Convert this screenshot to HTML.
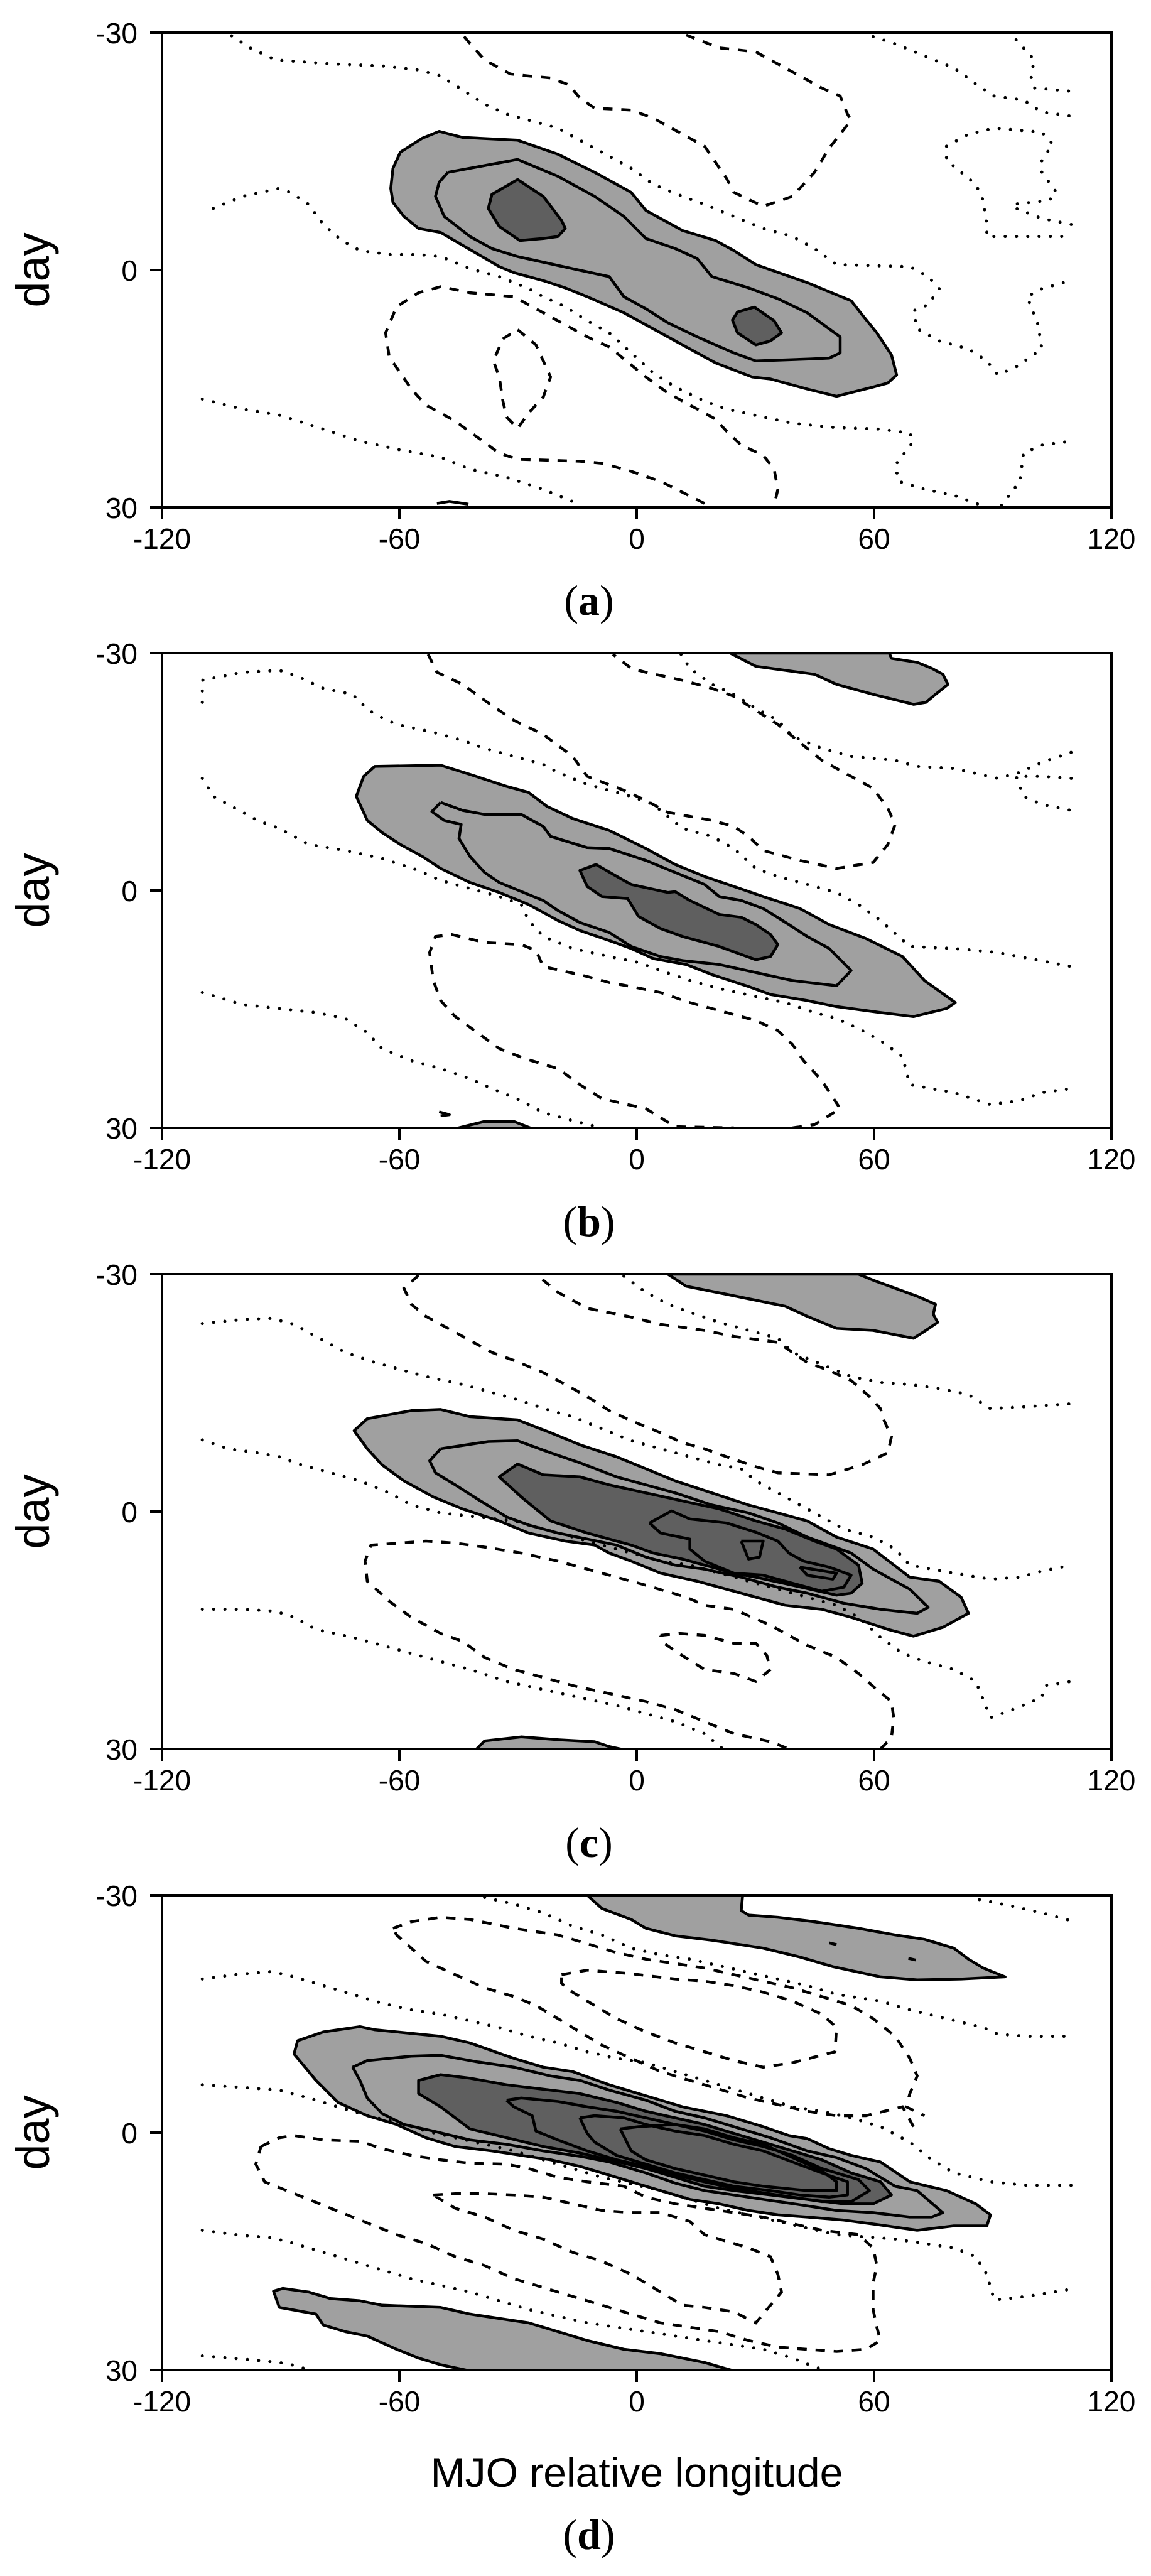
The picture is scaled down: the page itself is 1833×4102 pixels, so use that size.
<!DOCTYPE html>
<html><head><meta charset="utf-8">
<style>
html,body{margin:0;padding:0;background:#fff;}
svg{display:block;}
text{font-family:"Liberation Sans",Arial,sans-serif;}
.lab{font-family:"Liberation Serif","Times New Roman",serif;}
</style></head>
<body>
<svg id="s" width="1833" height="4102" viewBox="0 0 1833 4102" xmlns="http://www.w3.org/2000/svg">
<text class="lab" x="938" y="979" font-size="68" text-anchor="middle">(<tspan font-weight="bold">a</tspan>)</text>
<text class="lab" x="938" y="1968" font-size="68" text-anchor="middle">(<tspan font-weight="bold">b</tspan>)</text>
<text class="lab" x="938" y="2957" font-size="68" text-anchor="middle">(<tspan font-weight="bold">c</tspan>)</text>
<text class="lab" x="938" y="4059" font-size="68" text-anchor="middle">(<tspan font-weight="bold">d</tspan>)</text>
<text x="1014" y="3960" font-size="66" text-anchor="middle">MJO relative longitude</text>
</svg>
<script>
var NS="http://www.w3.org/2000/svg",S=document.getElementById("s");
function el(t,a,p){var e=document.createElementNS(NS,t);for(var k in a)e.setAttribute(k,a[k]);(p||S).appendChild(e);return e;}
var L=258,R=1770,H=756;
var panels=[
{top:52,yt:82,yb:1265,
fl:[[598,328,630,343,705,350,760,385,810,430,860,480,880,525,930,575,975,600,1000,625,1030,660,1100,705,1160,750,1175,785,1195,830,1215,885,1222,935,1210,955,1190,965,1140,988,1100,970,1050,945,1025,940,975,905,950,880,900,830,870,800,850,780,800,740,770,718,740,700,700,680,680,665,600,580,570,570,550,540,535,505,532,470,535,420,545,380,575,345]],
fd:[[705,448,740,490,765,550,770,570,760,590,740,595,708,600,680,565,665,520,670,485],[1028,766,1055,800,1065,830,1050,850,1030,860,1005,830,998,798,1005,778]],
sol:[[610,430,705,398,760,440,810,490,850,540,880,595,920,620,950,645,970,690,1020,718,1060,745,1100,780,1145,840,1145,880,1130,893,1105,895,1030,900,1000,880,950,840,910,805,880,770,850,740,830,690,780,670,730,650,705,640,670,620,640,590,605,540,593,490,598,455,610,430],[595,1255,612,1250,638,1257]],
da:[[632,92,660,150,695,185,720,190,750,195,775,212,790,245,810,270,860,275,890,295,945,350,960,365,975,405,990,445,1000,480,1040,515,1080,490,1110,430,1130,370,1160,300,1155,285,1145,240,1120,220,1100,200,1050,150,1030,130,980,120,935,88],
[960,1255,900,1200,860,1175,820,1155,790,1150,705,1145,680,1130,650,1090,620,1050,600,1030,580,1010,560,970,545,930,530,890,525,830,540,765,570,730,600,715,640,730,700,740,720,760,760,800,800,840,830,865,860,910,880,940,910,980,950,1020,975,1045,990,1075,1010,1110,1040,1135,1055,1170,1060,1220,1055,1260],
[705,822,730,860,750,940,740,990,720,1030,705,1068,690,1040,685,1000,680,940,672,900,685,845,705,822]],
dt:[[315,90,340,120,375,150,450,160,520,165,570,175,600,190,630,225,660,260,690,285,720,300,760,320,790,350,820,380,860,420,890,460,930,490,960,510,1000,540,1040,570,1080,590,1110,620,1140,660,1240,665,1265,690,1280,720,1265,760,1245,775,1250,820,1280,850,1320,870,1345,900,1360,935,1385,915,1420,870,1415,810,1400,740,1420,720,1450,705],
[1190,92,1220,110,1260,140,1300,170,1330,210,1355,240,1395,250,1420,280,1460,290],
[1385,100,1410,150,1405,190,1410,220,1460,228],
[1460,560,1420,545,1385,520,1380,510,1430,500,1440,480,1420,430,1420,400,1435,360,1420,330,1355,320,1320,335,1290,365,1290,400,1310,430,1330,460,1340,500,1345,560,1345,590,1460,590],
[290,520,330,490,380,470,395,480,420,510,440,560,465,600,490,625,530,635,570,635,600,640,640,670,680,690,720,720,740,740,770,765,800,800,830,830,860,880,890,930,920,965,960,1000,990,1020,1040,1040,1080,1055,1130,1065,1200,1070,1240,1080,1245,1100,1220,1160,1225,1200,1260,1220,1300,1235,1335,1258],
[275,995,330,1020,380,1035,440,1070,490,1100,540,1120,600,1140,640,1170,690,1190,740,1220,790,1258],
[1365,1260,1390,1200,1395,1130,1420,1110,1460,1100]]},
{top:1040,yt:62,yb:1248,
fl:[[995,62,1030,95,1110,115,1140,140,1190,165,1245,190,1262,185,1275,165,1292,140,1285,115,1270,100,1250,85,1215,75,1212,62],
[510,345,600,342,640,365,690,395,720,410,745,445,780,475,830,505,880,550,920,590,960,620,1000,645,1040,670,1090,700,1130,740,1180,775,1230,820,1260,880,1302,935,1290,950,1245,970,1200,960,1140,945,1100,930,1050,915,1020,895,970,865,935,840,890,825,860,800,830,780,790,755,760,730,720,690,680,660,640,635,600,600,575,570,545,540,520,510,500,480,485,420,495,370],
[620,1250,660,1232,700,1232,725,1250]],
fd:[[812,590,850,630,860,640,910,660,920,658,940,680,980,715,1010,722,1030,740,1050,765,1060,790,1050,820,1030,828,980,795,930,770,900,750,870,720,855,675,820,670,800,645,790,605]],
sol:[[600,435,630,455,660,465,710,465,740,495,750,520,800,548,830,550,880,580,920,610,960,640,980,670,1010,680,1040,700,1075,740,1100,770,1130,800,1160,855,1140,893,1080,880,1030,860,980,840,930,830,900,820,860,795,830,760,790,735,760,705,740,680,720,665,680,635,660,610,640,570,625,525,628,490,605,480,588,458,600,435],[598,1208,612,1215,600,1218]],
da:[[583,65,595,110,630,140,660,180,700,230,740,265,780,320,800,370,850,405,880,430,910,460,970,480,1000,495,1020,520,1040,555,1090,580,1140,600,1190,585,1210,540,1220,490,1210,450,1190,400,1160,370,1120,330,1100,300,1080,270,1060,240,1030,205,1000,170,970,150,930,130,880,110,860,100,835,65],
[1080,1248,1110,1240,1145,1200,1120,1130,1095,1080,1080,1040,1060,1005,1030,980,970,950,940,935,900,910,860,895,830,885,800,870,740,845,730,805,710,790,660,785,615,765,593,770,585,810,590,880,600,930,620,970,650,1010,680,1050,715,1075,760,1100,790,1140,820,1175,880,1200,920,1245,1000,1248]],
dt:[[275,185,275,130,330,110,380,105,405,120,440,150,480,165,490,185,510,215,540,240,590,260,630,280,660,300,700,320,740,340,760,360,800,390,860,420,890,440,910,470,930,500,970,520,1000,550,1030,600,1060,620,1100,640,1140,660,1170,690,1200,730,1240,795,1300,800,1360,810,1460,845],
[928,65,940,100,970,140,1000,165,1030,200,1060,230,1080,270,1120,300,1160,320,1220,330,1250,345,1300,350,1360,375,1390,360,1420,335,1460,310],
[1460,375,1420,370,1385,370,1395,420,1420,440,1460,455],
[275,375,290,420,320,450,350,480,380,500,420,540,470,555,520,575,570,605,600,630,640,650,680,670,710,690,720,730,740,770,780,800,830,820,870,835,900,855,940,880,980,900,1030,920,1070,935,1110,960,1140,975,1170,1000,1200,1030,1230,1070,1240,1140,1300,1160,1350,1190,1390,1180,1420,1160,1460,1150],
[275,910,330,940,380,950,430,960,470,975,500,1010,520,1050,560,1080,600,1100,640,1125,670,1150,710,1180,740,1210,780,1230,820,1248]]},
{top:2029,yt:45,yb:1228,
fl:[[910,45,935,75,990,95,1030,110,1070,125,1100,150,1140,180,1190,185,1245,205,1262,185,1278,165,1272,145,1275,120,1250,100,1220,80,1190,60,1170,45],
[500,405,560,385,600,382,640,400,705,408,750,440,790,470,840,500,880,530,920,560,970,590,1020,620,1060,640,1100,660,1140,700,1190,730,1240,800,1280,810,1310,850,1320,890,1300,910,1285,925,1245,947,1210,930,1160,900,1120,880,1070,870,1030,850,990,830,950,810,900,790,860,760,830,740,810,720,770,710,720,690,680,660,630,630,590,600,550,560,520,520,500,480,482,435],
[648,1230,660,1208,710,1198,760,1205,810,1210,830,1222,850,1230]],
fd:[[705,518,740,545,790,550,830,570,880,590,930,610,980,630,1030,660,1070,680,1110,710,1140,730,1170,770,1175,815,1160,840,1140,845,1080,820,1030,800,1000,790,960,770,930,755,890,740,860,720,800,690,750,660,710,600,680,550]],
sol:[[600,480,665,462,705,460,750,490,790,515,840,550,880,570,920,590,970,620,1020,640,1060,665,1100,700,1160,740,1190,780,1240,830,1265,875,1250,890,1200,880,1150,865,1100,840,1060,825,1010,800,960,780,920,770,880,750,840,720,800,705,760,690,720,670,690,650,650,605,620,570,593,540,585,510,600,480],
[885,665,915,635,940,655,990,665,1030,688,1060,710,1075,740,1095,760,1130,775,1160,795,1150,825,1120,835,1090,820,1040,795,1000,790,960,760,940,730,940,705,900,690,885,665],
[1010,710,1040,710,1035,750,1020,755,1010,710],[1090,775,1140,790,1135,805,1100,795,1090,775]],
da:[[570,48,550,80,560,120,580,150,610,180,640,210,670,240,700,260,740,290,770,320,800,350,830,385,860,410,900,440,930,465,960,480,990,500,1030,525,1060,540,1130,545,1175,520,1210,490,1215,450,1205,410,1200,380,1185,350,1160,310,1130,285,1100,265,1080,240,1060,215,1000,200,960,185,900,170,855,150,800,130,760,90,740,60,735,48],
[1200,1228,1215,1200,1218,1150,1215,1110,1195,1080,1170,1040,1140,1000,1100,970,1050,920,1000,880,960,870,935,850,880,820,820,790,760,760,710,740,660,725,620,715,580,710,545,715,505,720,497,760,500,810,530,860,560,900,600,940,630,960,660,1000,700,1030,740,1050,780,1070,830,1090,880,1110,920,1130,960,1160,1000,1190,1050,1210,1075,1228],
[900,945,925,940,960,945,1000,965,1030,965,1045,995,1050,1030,1030,1060,1000,1040,960,1030,925,990,905,965,900,945]],
dt:[[275,168,330,158,370,155,400,170,430,200,470,240,510,265,540,280,580,300,630,320,660,335,700,355,750,385,780,400,820,430,860,460,900,480,940,500,980,520,1010,530,1030,560,1060,590,1090,620,1120,650,1150,680,1190,700,1220,730,1240,770,1300,790,1350,805,1390,800,1420,785,1460,770],
[850,50,880,90,910,120,940,140,980,165,1020,185,1060,205,1080,240,1120,270,1160,300,1200,315,1240,320,1280,330,1320,345,1350,380,1400,375,1460,368],
[275,458,310,480,350,490,380,500,410,520,450,540,490,560,530,590,560,620,600,640,650,650,700,660,740,680,780,700,820,720,860,740,900,760,940,770,980,790,1020,810,1060,830,1100,850,1140,870,1170,900,1200,950,1230,990,1260,1010,1300,1030,1330,1060,1350,1150,1380,1130,1420,1100,1425,1070,1460,1060],
[275,880,330,880,375,885,400,900,430,930,480,950,520,970,560,990,600,1010,640,1030,690,1060,740,1080,790,1100,840,1120,880,1140,920,1160,960,1190,985,1228]]},
{top:3018,yt:20,yb:1097,
fl:[[800,20,820,50,860,75,880,95,920,112,970,122,1040,140,1090,160,1135,182,1200,205,1250,212,1310,210,1370,205,1340,185,1320,165,1300,140,1260,120,1220,110,1170,95,1110,80,1060,70,1020,65,1010,55,1012,20],
[405,350,440,330,490,318,510,325,600,340,640,355,700,390,740,410,780,420,830,450,880,475,930,500,990,520,1040,545,1075,565,1100,572,1130,595,1160,610,1200,625,1240,670,1290,690,1330,720,1350,745,1345,770,1300,770,1250,780,1200,768,1150,757,1100,750,1060,745,1020,735,980,720,940,710,900,690,860,670,820,650,790,635,750,620,710,610,670,600,620,590,580,570,540,540,500,520,460,490,430,440,410,400,400,380],
[372,918,385,912,420,920,450,935,490,940,520,950,600,955,640,970,720,990,760,1010,800,1030,850,1050,900,1060,960,1080,1000,1099,640,1099,600,1085,570,1070,540,1050,500,1020,470,1010,440,995,430,970,380,955]],
fd:[[570,440,600,427,640,435,690,450,740,460,790,470,840,490,880,510,920,525,960,540,1000,560,1040,580,1080,600,1120,620,1160,650,1200,670,1215,700,1190,720,1150,720,1100,710,1050,700,1000,690,960,680,920,660,880,640,830,620,790,605,740,590,690,570,640,550,600,500,570,470]],
sol:[[480,410,500,395,560,385,600,383,650,398,700,410,750,430,790,440,830,462,880,485,920,510,960,525,1000,545,1050,570,1100,600,1140,615,1180,640,1220,680,1250,690,1285,740,1270,750,1240,750,1190,740,1140,735,1090,722,1040,710,1000,700,960,690,920,673,880,650,830,625,790,612,740,600,690,585,640,575,590,555,550,540,520,515,500,480,490,440,480,410],
[690,485,710,480,760,488,800,500,840,510,880,525,920,540,960,555,1000,575,1040,590,1080,610,1120,640,1170,665,1185,690,1160,715,1120,715,1080,705,1040,695,1000,685,960,670,920,655,880,635,840,620,800,600,760,575,730,555,725,520,700,500,690,485],
[790,525,810,520,850,525,880,540,920,555,960,565,1000,585,1040,600,1080,625,1120,650,1155,670,1155,700,1130,705,1090,700,1050,690,1000,680,960,665,920,650,880,630,840,610,810,580,800,560,790,525],
[845,550,870,545,920,540,960,550,1000,570,1040,585,1080,615,1120,645,1140,670,1140,690,1100,690,1040,680,1000,670,960,655,920,640,880,620,860,600,845,550],
[1130,128,1140,132],[1238,163,1248,167]],
da:[[765,200,800,190,860,198,920,210,960,215,1000,225,1040,240,1080,260,1120,290,1140,320,1138,375,1080,400,1040,410,1000,395,960,375,920,355,880,330,840,300,800,260,780,240,765,220,765,200],
[535,95,560,80,600,70,640,75,700,95,760,110,800,130,840,150,880,165,920,175,960,185,1000,200,1040,215,1080,230,1120,250,1160,270,1190,300,1220,340,1240,390,1250,430,1240,470,1235,500,1260,520],
[1245,545,1230,500,1180,520,1140,520,1100,510,1060,495,1020,480,980,460,940,440,900,420,860,390,820,360,790,330,760,300,730,270,700,250,660,230,620,200,580,170,560,140,540,110,535,95],
[355,590,380,570,400,565,440,575,490,578,520,595,560,610,600,620,640,628,690,630,720,640,760,660,800,670,850,680,880,705,920,720,960,730,1000,740,1040,750,1080,765,1120,780,1170,790,1190,820,1195,860,1190,900,1190,960,1195,1000,1200,1030,1180,1050,1140,1055,1100,1050,1060,1045,1020,1030,980,1010,940,1000,900,990,860,970,820,950,780,930,740,910,700,890,660,860,620,840,580,810,540,790,510,770,480,750,450,730,420,710,390,690,360,670,348,630,355,590],
[590,700,620,697,660,697,700,700,740,705,780,720,820,735,860,740,900,740,940,760,960,790,980,800,1000,810,1020,820,1050,840,1060,880,1065,920,1045,960,1030,990,1000,965,960,955,930,950,900,920,860,880,820,850,780,830,740,800,700,780,660,750,620,730,590,700]],
dt:[[660,25,700,40,740,60,780,90,820,110,860,140,900,155,940,165,980,180,1020,195,1060,210,1100,225,1140,245,1200,260,1240,280,1290,300,1340,320,1360,335,1400,340,1460,340],
[1335,30,1380,45,1420,60,1460,78],
[275,210,320,200,370,193,400,205,440,225,480,245,520,265,560,280,600,290,640,305,680,320,720,340,760,355,800,375,840,390,880,400,920,420,960,440,1000,460,1040,480,1080,500,1120,510,1160,525,1200,545,1240,580,1270,620,1300,650,1350,670,1400,678,1460,678],
[275,450,320,455,380,462,420,480,460,500,500,520,540,535,580,555,620,570,660,585,700,600,740,620,780,640,820,660,860,675,900,690,940,710,980,730,1020,745,1060,760,1100,775,1140,790,1180,795,1220,800,1260,810,1300,820,1330,840,1345,880,1355,938,1400,930,1455,915],
[275,780,320,790,370,797,400,810,440,830,480,850,520,870,560,890,600,905,640,920,680,940,720,960,760,975,800,990,840,1000,880,1010,920,1020,960,1030,1000,1040,1040,1050,1080,1070,1110,1090,1125,1097],
[275,1065,330,1072,380,1080,405,1088,420,1097]]}
];
panels.forEach(function(p,i){
  var T=p.top,B=T+H;
  function pts(a){var s=[];for(var k=0;k<a.length;k+=2){var x=L+(a[k]-220)*(R-L)/1295;var y=T+(a[k+1]-p.yt)*H/(p.yb-p.yt);s.push(x.toFixed(1)+","+y.toFixed(1));}return s.join(" ");}
  var cp=el("clipPath",{id:"c"+i});el("rect",{x:L,y:T,width:R-L,height:H},cp);
  var g=el("g",{"clip-path":"url(#c"+i+")"});
  p.fl.forEach(function(a){el("polygon",{points:pts(a),fill:"#a0a0a0",stroke:"#000","stroke-width":4.5,"stroke-linejoin":"round"},g);});
  p.fd.forEach(function(a){el("polygon",{points:pts(a),fill:"#5f5f5f",stroke:"#000","stroke-width":4.5,"stroke-linejoin":"round"},g);});
  p.sol.forEach(function(a){el("polyline",{points:pts(a),fill:"none",stroke:"#000","stroke-width":4.5,"stroke-linejoin":"round"},g);});
  p.da.forEach(function(a){el("polyline",{points:pts(a),fill:"none",stroke:"#000","stroke-width":4.5,"stroke-dasharray":"15 14"},g);});
  p.dt.forEach(function(a){el("polyline",{points:pts(a),fill:"none",stroke:"#000","stroke-width":5,"stroke-linecap":"round","stroke-dasharray":"0 18"},g);});
  el("rect",{x:L,y:T,width:R-L,height:H,fill:"none",stroke:"#000","stroke-width":4});
  [-120,-60,0,60,120].forEach(function(v){var x=L+(v+120)*(R-L)/240;
    el("line",{x1:x,y1:B,x2:x,y2:B+19,stroke:"#000","stroke-width":4});
    var t=el("text",{x:x,y:B+66,"font-size":46,"text-anchor":"middle"});t.textContent=v;});
  [[-30,T],[0,T+H/2],[30,B]].forEach(function(q){
    el("line",{x1:L-19,y1:q[1],x2:L,y2:q[1],stroke:"#000","stroke-width":4});
    var t=el("text",{x:219,y:q[1]+17,"font-size":46,"text-anchor":"end"});t.textContent=q[0];});
  var d=el("text",{x:0,y:0,"font-size":74,"text-anchor":"middle",transform:"translate(78,"+(T+H/2)+") rotate(-90)"});d.textContent="day";
});
</script>
</body></html>
